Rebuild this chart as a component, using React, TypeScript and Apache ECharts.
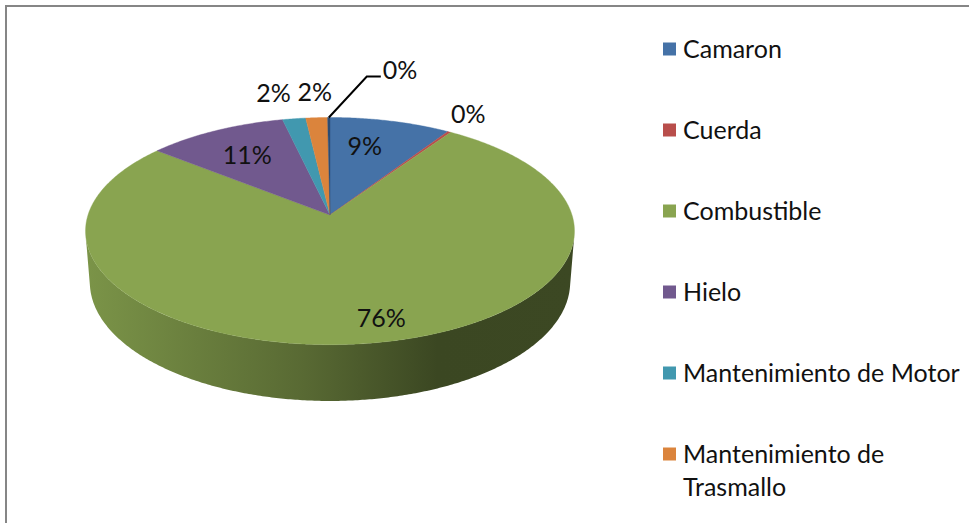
import React, { useEffect, useRef } from 'react';
import * as echarts from 'echarts';

// ---- data ----
const categories = [
  'Camaron',
  'Cuerda',
  'Combustible',
  'Hielo',
  'Mantenimiento de Motor',
  'Mantenimiento de Trasmallo',
  'Otros',
];
const values = [9.17, 0.25, 76.4, 10.6, 1.75, 1.65, 0.18];
const legendCount = 6; // the seventh legend entry lies below the visible area
const colors = ['#4572a7', '#b94e4b', '#89a450', '#71598e', '#4198af', '#db843c', '#2c4d75'];

// ---- layout (label placement relative to the slice's mid angle) ----
const labelLayout = [
  { r: 0.71, da: -3.7 },
  { r: 1.24, da: -1.5 },
  { r: 0.83, da: -4.5 },
  { r: 0.7, da: 0 },
  { r: 1.335, da: -2.2 },
  { r: 1.33, da: 0.4 },
  { leader: true },
];

const FONT = 'Lato, "Open Sans", sans-serif';
const CX = 330;
const CY = 215;
const S = 242;
const SIN_A = 0.46;
const COS_A = Math.sqrt(1 - SIN_A * SIN_A);
const D = 6.27;
const H = 0.24;

function shade(hex: string, f: number): string {
  const n = parseInt(hex.slice(1), 16);
  const r = Math.round(((n >> 16) & 255) * f);
  const g = Math.round(((n >> 8) & 255) * f);
  const b = Math.round((n & 255) * f);
  return 'rgb(' + r + ',' + g + ',' + b + ')';
}

function proj(deg: number, r: number, h: number): number[] {
  const t = (deg * Math.PI) / 180;
  const x = r * Math.sin(t);
  const z = r * Math.cos(t);
  const u = h * COS_A + z * SIN_A;
  const d = z * COS_A - h * SIN_A;
  const k = D / (D + d);
  return [CX + S * x * k, CY - S * u * k];
}

function arcPoints(a: number, b: number, r: number, h: number): number[][] {
  const pts: number[][] = [];
  const n = Math.max(2, Math.ceil(Math.abs(b - a) / 0.5));
  for (let i = 0; i <= n; i++) pts.push(proj(a + ((b - a) * i) / n, r, h));
  return pts;
}

export default function App() {
  const ref = useRef<HTMLDivElement>(null);
  useEffect(() => {
    if (!ref.current) return;
    const chart = echarts.init(ref.current, undefined, { renderer: 'svg' });
    const total = values.reduce((s, v) => s + v, 0);
    const starts: number[] = [];
    let acc = 0;
    values.forEach((v) => {
      starts.push((acc / total) * 360);
      acc += v;
    });
    const vis0 = (Math.acos(-1 / (D * COS_A)) * 180) / Math.PI;
    const vis1 = 360 - vis0;

    const renderItem = (params: any, api: any) => {
      const i = params.dataIndex;
      const v = api.value(0);
      const a = starts[i];
      const b = a + (v / total) * 360;
      const color = colors[i];
      const children: any[] = [];
      // side face
      const s0 = Math.max(a, vis0);
      const s1 = Math.min(b, vis1);
      if (s1 > s0) {
        const top = arcPoints(s0, s1, 1, 0);
        const bot = arcPoints(s0, s1, 1, -H).reverse();
        children.push({
          type: 'polygon',
          shape: { points: top.concat(bot) },
          style: {
            fill: new echarts.graphic.LinearGradient(0, 0, 1, 0, [
              { offset: 0, color: shade(color, 0.9) },
              { offset: 0.45, color: shade(color, 0.64) },
              { offset: 0.72, color: shade(color, 0.43) },
              { offset: 1, color: shade(color, 0.44) },
            ]),
            stroke: 'none',
          },
        });
      }
      // top face
      const topPts = [proj(0, 0, 0)].concat(arcPoints(a, b, 1, 0));
      children.push({
        type: 'polygon',
        shape: { points: topPts },
        style: { fill: color, stroke: color, lineWidth: 0.4 },
        z2: 5,
      });
      // label
      const pct = Math.round((v / total) * 100) + '%';
      const mid = (a + b) / 2;
      const lay: any = labelLayout[i];
      if (lay.leader) {
        const p0 = proj(mid, 1, 0);
        const p1 = [p0[0] + 38, p0[1] - 41];
        const p2 = [p1[0] + 14, p1[1]];
        children.push({
          type: 'polyline',
          shape: { points: [p0, p1, p2] },
          style: { stroke: '#000', lineWidth: 2, fill: 'none' },
          z2: 20,
        });
        children.push({
          type: 'text',
          x: p2[0] + 2,
          y: p2[1] - 7,
          style: { text: pct, fontSize: 25, fontFamily: FONT, fill: '#111', align: 'left', verticalAlign: 'middle' },
          z2: 20,
        });
      } else {
        const p = proj(mid + lay.da, lay.r, 0);
        children.push({
          type: 'text',
          x: p[0],
          y: p[1],
          style: { text: pct, fontSize: 25, fontFamily: FONT, fill: '#111', align: 'center', verticalAlign: 'middle' },
          z2: 20,
        });
      }
      return { type: 'group', children };
    };

    const legendGraphics: any[] = [];
    for (let i = 0; i < legendCount; i++) {
      const cy = 49 + i * 81;
      legendGraphics.push({
        type: 'rect',
        shape: { x: 663, y: cy - 6.5, width: 13, height: 13 },
        style: { fill: colors[i] },
      });
      legendGraphics.push({
        type: 'text',
        x: 683,
        y: cy - 18,
        style: {
          text: categories[i],
          fontSize: 25,
          fontFamily: FONT,
          fill: '#111',
          width: 284,
          overflow: 'break',
          lineHeight: 33,
          verticalAlign: 'top',
          align: 'left',
        },
      });
    }

    chart.setOption({
      animation: false,
      backgroundColor: '#ffffff',
      graphic: [
        {
          type: 'rect',
          shape: { x: 6, y: 6, width: 1200, height: 800 },
          style: { fill: 'none', stroke: '#868686', lineWidth: 2 },
          z: 0,
        },
        ...legendGraphics,
      ],
      series: [
        {
          type: 'custom',
          coordinateSystem: 'none',
          renderItem,
          data: values.map((v, i) => ({ name: categories[i], value: [v] })),
        },
      ],
    });
    return () => chart.dispose();
  }, []);
  return <div ref={ref} style={{ position: 'fixed', left: 0, top: 0, width: 969, height: 523 }} />;
}
